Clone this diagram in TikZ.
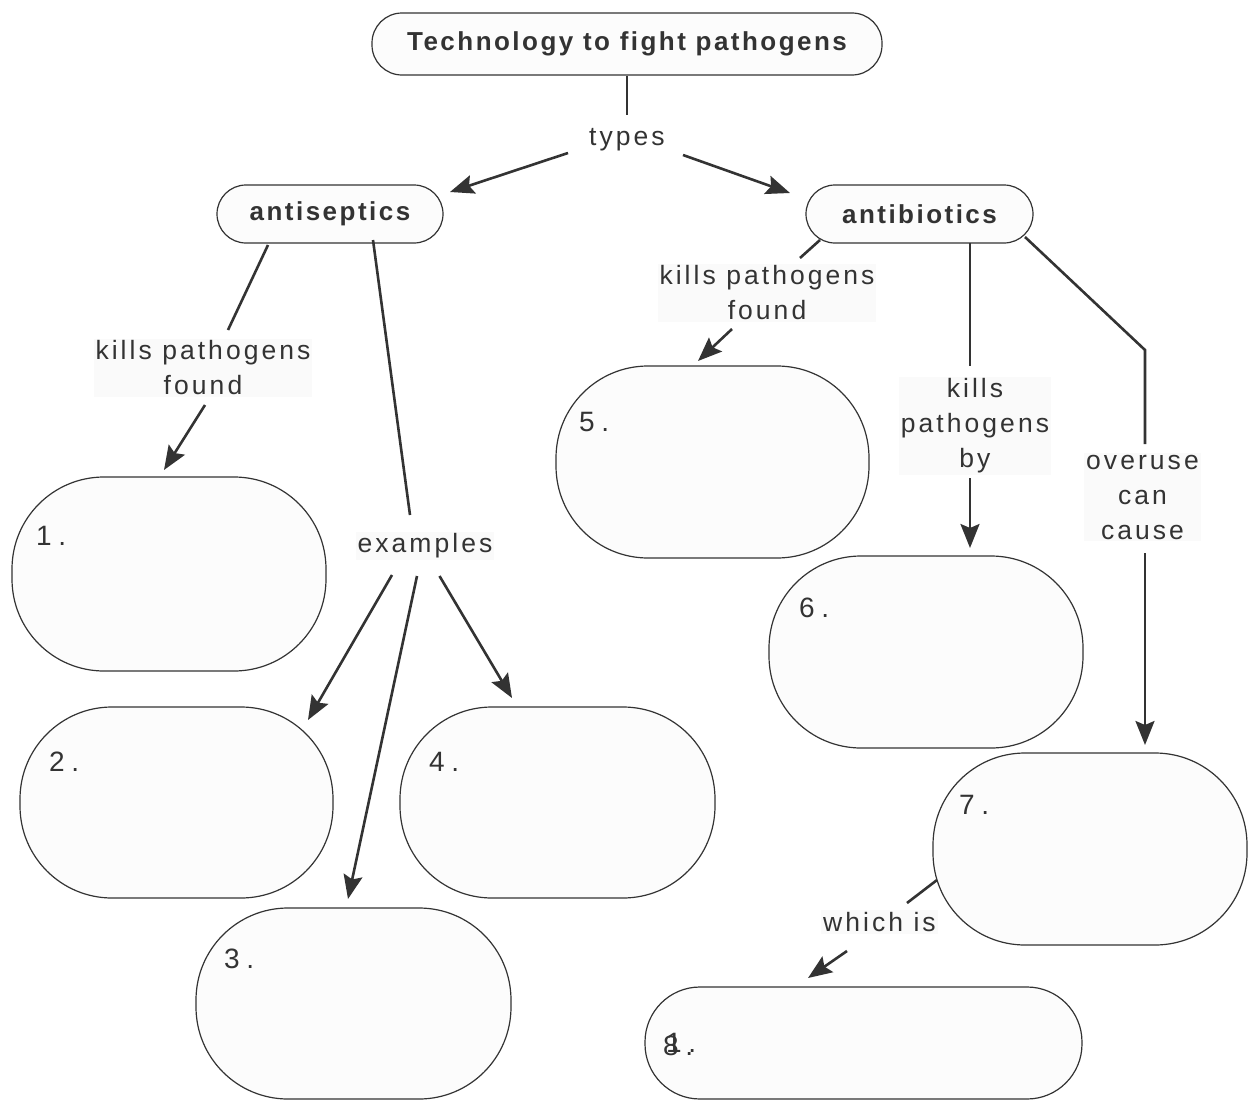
\documentclass[tikz,border=0pt]{standalone}
\usepackage{fontspec}
\setmainfont{Liberation Sans}[LetterSpace=11.5]
\usetikzlibrary{arrows.meta}
\definecolor{ink}{HTML}{333333}
\definecolor{boxfill}{HTML}{FCFCFC}
\definecolor{lblfill}{HTML}{FAFAFA}
\tikzset{
  pillbox/.style={draw=ink, line width=1.2pt, fill=boxfill, rectangle, rounded corners=29pt, inner sep=0pt, minimum height=58pt},
  bigbox/.style={draw=ink, line width=1.2pt, fill=boxfill, rectangle, rounded corners=92pt, inner sep=0pt, minimum width=314pt, minimum height=192pt},
  lbl/.style={fill=lblfill, inner sep=2pt, align=center},
  numtxt/.style={anchor=base west, inner sep=0pt, font=\fontsize{28}{30}\selectfont\addfontfeature{LetterSpace=24}},
  conn/.style={draw=ink, line width=2.6pt},
  arr/.style={conn, -{Stealth[length=24pt,width=19pt,inset=4pt]}},
  boldtxt/.style={font=\fontsize{26}{30}\selectfont\bfseries\addfontfeature{LetterSpace=9.5}}
}
\begin{document}
\begin{tikzpicture}[x=1pt,y=-1pt, font=\fontsize{26.5}{35}\selectfont, text=ink]
\useasboundingbox (0,0) rectangle (1248,1100);
% main nodes
\node[pillbox, minimum width=510pt, minimum height=62pt, rounded corners=30pt, boldtxt] (title) at (627,44) {Technology to fight pathogens};
\node[pillbox, minimum width=226pt, boldtxt] (antiseptics) at (330,214) {antiseptics};
\node[pillbox, minimum width=227pt, boldtxt] (antibiotics) at (919.5,214) {antibiotics};
% answer boxes
\node[bigbox, minimum height=194pt] (n1) at (169,574) {};
\node[bigbox, minimum width=313pt, minimum height=191pt] (n2) at (176.5,802.5) {};
\node[bigbox, minimum width=315pt, minimum height=191pt] (n3) at (353.5,1003.5) {};
\node[bigbox, minimum width=315pt, minimum height=191pt] (n4) at (557.5,802.5) {};
\node[bigbox, minimum width=313pt] (n5) at (712.5,462) {};
\node[bigbox] (n6) at (926,652) {};
\node[bigbox] (n7) at (1090,849) {};
\node[bigbox, minimum width=437pt, minimum height=112pt, rounded corners=55pt] (n8) at (863.5,1043) {};
% numbers
\node[numtxt] (t1) at (36,545) {1.};
\node[numtxt] (t2) at (49,771) {2.};
\node[numtxt] (t3) at (224,968) {3.};
\node[numtxt] (t4) at (429,771) {4.};
\node[numtxt] (t5) at (579,431) {5.};
\node[numtxt] (t6) at (799,617) {6.};
\node[numtxt] (t7) at (959,814) {7.};
\node[numtxt] (t8) at (663,1055) {8.};
\node[numtxt] (t8b) at (666,1052) {1.};
% link labels
\node[fill=white, inner sep=2pt] (types) at (627,140) {types};
\node[lbl] (kpf1) at (203,368) {kills pathogens\\found};
\node[lbl] (examples) at (425,546) {examples};
\node[lbl] (kpf2) at (767,293) {kills pathogens\\found};
\node[lbl] (kpby) at (975,426) {kills\\pathogens\\by};
\node[lbl] (overuse) at (1142.5,497) {overuse\\can\\cause};
\node[lbl] (whichis) at (879.5,922) {which is};
% connectors
\draw[conn] (title.south) -- ([shift={(0,-25)}]types.center);
\draw[arr] ([shift={(-59,13)}]types.center) -- ([shift={(120,-22)}]antiseptics.center);
\draw[arr] ([shift={(56,15)}]types.center) -- ([shift={(-129.5,-21)}]antibiotics.center);
\draw[conn] ([shift={(-62,31)}]antiseptics.center) -- ([shift={(25,-38)}]kpf1.center);
\draw[arr] ([shift={(2,37)}]kpf1.center) -- ([shift={(-5,-104)}]n1.center);
\draw[conn] ([shift={(43,26)}]antiseptics.center) -- ([shift={(-15,-31)}]examples.center);
\draw[arr] ([shift={(-33,29)}]examples.center) -- ([shift={(131.5,-82.5)}]n2.center);
\draw[arr] ([shift={(-8,30)}]examples.center) -- ([shift={(-5.5,-104.5)}]n3.center);
\draw[arr] ([shift={(14.5,30)}]examples.center) -- ([shift={(-45.5,-104.5)}]n4.center);
\draw[conn] ([shift={(-99.5,26)}]antibiotics.center) -- ([shift={(33,-35)}]kpf2.center);
\draw[arr] ([shift={(-35,36)}]kpf2.center) -- ([shift={(-14.5,-101)}]n5.center);
\draw[conn] ([shift={(50.5,29)}]antibiotics.center) -- ([shift={(-5,-60)}]kpby.center);
\draw[arr] ([shift={(-5,52)}]kpby.center) -- ([shift={(44,-104)}]n6.center);
\draw[conn] ([shift={(105.5,23)}]antibiotics.center) -- ([shift={(2.5,-147)}]overuse.center) -- ([shift={(2.5,-53)}]overuse.center);
\draw[arr] ([shift={(2.5,56)}]overuse.center) -- ([shift={(55,-104)}]n7.center);
\draw[conn] ([shift={(-153,31)}]n7.center) -- ([shift={(27.5,-19)}]whichis.center);
\draw[arr] ([shift={(-32.5,29)}]whichis.center) -- ([shift={(-55.5,-65)}]n8.center);
\end{tikzpicture}
\end{document}
